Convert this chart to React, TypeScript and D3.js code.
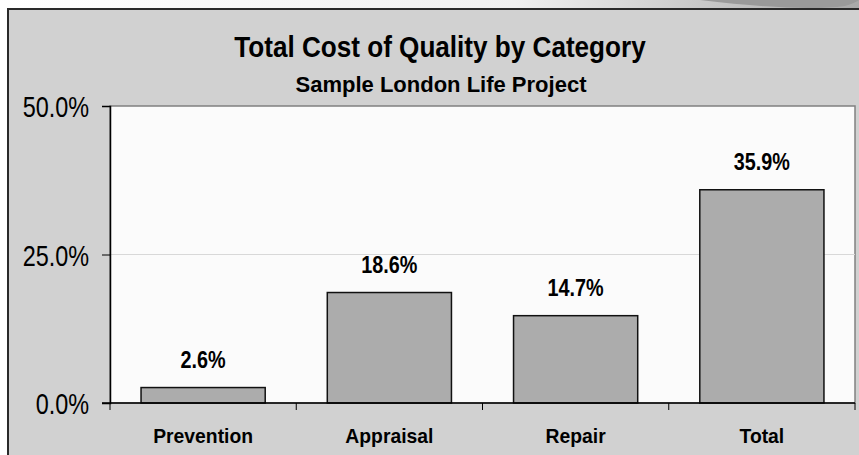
import React, { useEffect, useRef } from 'react';
import * as d3 from 'd3';

const categories = ['Prevention', 'Appraisal', 'Repair', 'Total'];
const values = [2.6, 18.6, 14.7, 35.9];
const yTicks = [0, 25, 50];
const title = 'Total Cost of Quality by Category';
const subtitle = 'Sample London Life Project';

const W = 859;
const H = 455;
const FONT = '"Liberation Sans", Arial, sans-serif';

// squeeze text horizontally to mimic the narrow face of the original
function narrow(sel: any, k: number) {
    sel.each(function (this: SVGTextElement) {
        const len = this.getComputedTextLength();
        this.setAttribute('textLength', String(len * k));
        this.setAttribute('lengthAdjust', 'spacingAndGlyphs');
    });
}

function CostChart() {
    const svgRef = useRef<SVGSVGElement>(null);

    useEffect(() => {
        if (!svgRef.current) return;
        const svg = d3.select(svgRef.current);
        svg.selectAll('*').remove();

        const m = { left: 110, right: 855, top: 106, bottom: 403 };

        // background & frame
        const defs = svg.append('defs');
        const grad = defs.append('linearGradient').attr('id', 'topStrip').attr('x1', 0).attr('x2', 1);
        grad.append('stop').attr('offset', '0%').attr('stop-color', '#ffffff');
        grad.append('stop').attr('offset', '60%').attr('stop-color', '#f0f0f0');
        grad.append('stop').attr('offset', '100%').attr('stop-color', '#a8a8a8');

        svg.append('rect').attr('x', 0).attr('y', 0).attr('width', W).attr('height', 9).attr('fill', 'url(#topStrip)');
        svg.append('path')
            .attr('d', `M700,0 Q800,12 845,6 Q855,3 859,0 Z`)
            .attr('fill', '#9a9a9a');
        svg.append('rect').attr('x', 8).attr('y', 9).attr('width', W - 8).attr('height', H - 9).attr('fill', '#d1d1d1');
        svg.append('line').attr('x1', 8).attr('x2', W).attr('y1', 9).attr('y2', 9).attr('stroke', '#2a2a2a').attr('stroke-width', 2);
        svg.append('line').attr('x1', 8).attr('x2', 8).attr('y1', 8).attr('y2', H).attr('stroke', '#2a2a2a').attr('stroke-width', 2);

        const x = d3.scaleBand().domain(categories).range([m.left, m.right]).paddingInner(1 / 3).paddingOuter(1 / 6);
        const y = d3.scaleLinear().domain([0, 50]).range([m.bottom, m.top]);

        // plot area
        svg.append('rect')
            .attr('x', m.left).attr('y', m.top)
            .attr('width', m.right - m.left).attr('height', m.bottom - m.top)
            .attr('fill', '#fbfbfb')
            .attr('stroke', '#808080').attr('stroke-width', 1.5);

        // gridline
        svg.append('g').selectAll('line')
            .data(yTicks.filter(t => t > 0 && t < 50))
            .join('line')
            .attr('x1', m.left).attr('x2', m.right)
            .attr('y1', d => y(d)).attr('y2', d => y(d))
            .attr('stroke', '#d8d8d8');

        // bars
        svg.append('g').selectAll('rect')
            .data(values)
            .join('rect')
            .attr('x', (d, i) => x(categories[i])!)
            .attr('y', d => y(d))
            .attr('width', x.bandwidth())
            .attr('height', d => m.bottom - y(d))
            .attr('fill', '#acacac')
            .attr('stroke', '#111')
            .attr('stroke-width', 1.5);

        // value labels
        const vl = svg.append('g').selectAll('text')
            .data(values)
            .join('text')
            .attr('x', (d, i) => x(categories[i])! + x.bandwidth() / 2)
            .attr('y', d => y(d) - 20)
            .attr('text-anchor', 'middle')
            .style('font-family', FONT)
            .style('font-weight', 'bold')
            .style('font-size', '23px')
            .text(d => d.toFixed(1) + '%');
        narrow(vl, 0.86);

        // y axis
        const yAxis = svg.append('g')
            .attr('transform', `translate(${m.left},0)`)
            .call(d3.axisLeft(y).tickValues(yTicks).tickSize(8).tickFormat(d => (+d).toFixed(1) + '%'));
        yAxis.select('.domain').attr('stroke', '#000').attr('stroke-width', 1.5);
        yAxis.selectAll('.tick line').attr('stroke', '#000');
        const yl = yAxis.selectAll('.tick text')
            .attr('x', -21)
            .attr('dy', '0.36em')
            .attr('fill', '#000')
            .style('font-family', FONT)
            .style('font-size', '30px');
        narrow(yl, 0.78);

        // x axis
        const xAxis = svg.append('g')
            .attr('transform', `translate(0,${m.bottom})`)
            .call(d3.axisBottom(x).tickSize(0));
        xAxis.select('.domain').remove();
        svg.append('line')
            .attr('x1', m.left - 8).attr('x2', m.right)
            .attr('y1', m.bottom).attr('y2', m.bottom)
            .attr('stroke', '#000').attr('stroke-width', 1.5);
        const bounds = categories.map(c => x(c)! - x.step() * x.paddingInner() / 2).concat([m.right]);
        svg.append('g').selectAll('line')
            .data(bounds)
            .join('line')
            .attr('x1', d => d).attr('x2', d => d)
            .attr('y1', m.bottom).attr('y2', m.bottom + 7)
            .attr('stroke', '#000');
        const xl = xAxis.selectAll('.tick text')
            .attr('y', 40)
            .attr('dy', 0)
            .attr('fill', '#000')
            .style('font-family', FONT)
            .style('font-weight', 'bold')
            .style('font-size', '21px');
        narrow(xl, 0.92);

        // titles
        const t1 = svg.append('text')
            .attr('x', 440).attr('y', 57)
            .attr('text-anchor', 'middle')
            .style('font-family', FONT)
            .style('font-weight', 'bold')
            .style('font-size', '29px')
            .text(title);
        narrow(t1, 0.9);
        svg.append('text')
            .attr('x', 441).attr('y', 92)
            .attr('text-anchor', 'middle')
            .style('font-family', FONT)
            .style('font-weight', 'bold')
            .style('font-size', '22px')
            .text(subtitle);
    }, []);

    return <svg ref={svgRef} width={W} height={H} style={{ position: 'fixed', left: 0, top: 0 }} />;
}

export default function App() {
    return <CostChart />;
}
